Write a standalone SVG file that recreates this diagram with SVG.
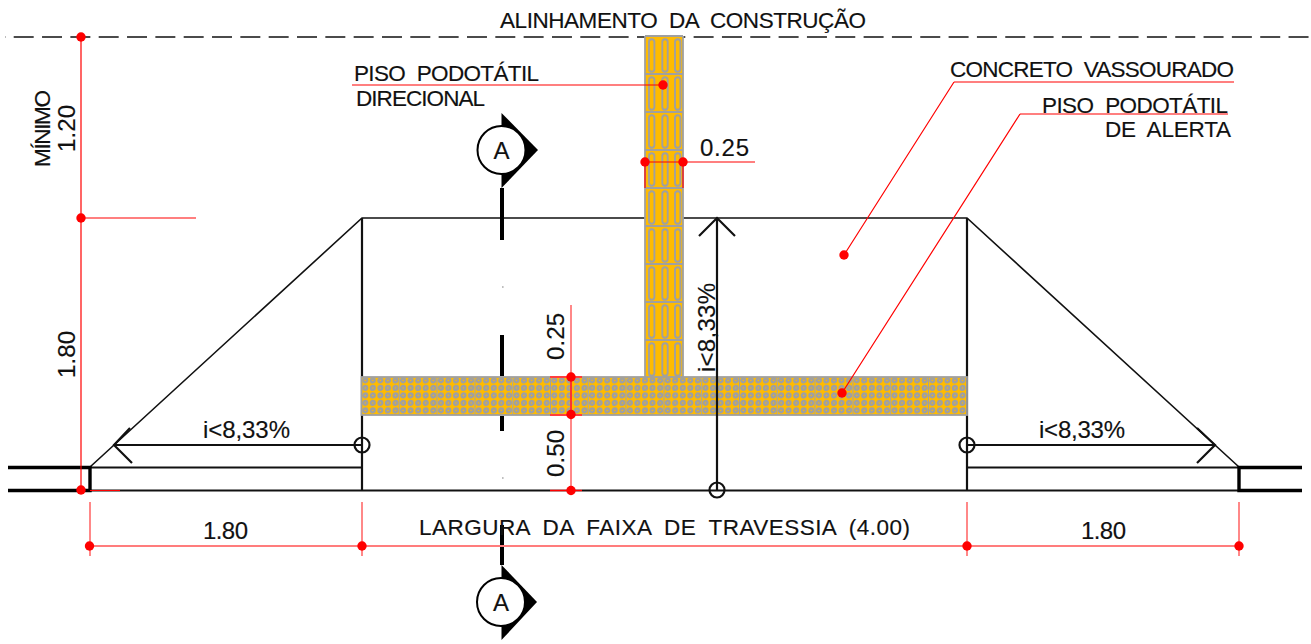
<svg xmlns="http://www.w3.org/2000/svg" width="1311" height="644" viewBox="0 0 1311 644">
<style>
text{font-family:"Liberation Sans",Arial,sans-serif;font-size:22.5px;fill:#111;word-spacing:6px;stroke:#111;stroke-width:.15}
.n{font-size:24px}
.k{stroke:#111;fill:none;stroke-width:1.6}
.m{stroke:#111;fill:none;stroke-width:2.2}
.t{stroke:#000;fill:none;stroke-width:3.4}
.s{stroke:#000;fill:none;stroke-width:4}
.r{stroke:#f00;fill:none;stroke-width:1.2}
.p{stroke:#ff7c7c;fill:none;stroke-width:1.8}
.d{fill:#f00}
.g{fill:none;stroke:#a0a0a0}
.b{fill:none;stroke:#a0a0a0;stroke-width:1.9}
.c{fill:none;stroke:#a0a0a0;stroke-width:2.400}
</style>
<defs>
<g id="dirTile">
<rect width="38" height="38" fill="#ffbb00"/>
<rect x="4" y="3.200" width="5.400" height="32.600" rx="2.700" class="b"/>
<rect x="17.300" y="3.200" width="5.400" height="32.600" rx="2.700" class="b"/>
<rect x="30" y="3.200" width="5.400" height="32.600" rx="2.700" class="b"/>
<path d="M0 0V38M38 0V38M0 0H38M0 38H38" class="g" stroke-width="1.800"/>
</g>
<g id="dotRow">
<circle cx="3.800" r="1.900" class="c"/><circle cx="11.300" r="1.900" class="c"/><circle cx="18.900" r="1.900" class="c"/><circle cx="26.400" r="1.900" class="c"/><circle cx="34" r="1.900" class="c"/>
</g>
<g id="alertTile">
<rect width="37.800" height="38" fill="#ffbb00"/>
<path d="M0 0V38" class="g" stroke-width="1"/>
<use href="#dotRow" y="3.400"/><use href="#dotRow" y="10.900"/><use href="#dotRow" y="18.400"/><use href="#dotRow" y="25.900"/><use href="#dotRow" y="33.400"/>
</g>
</defs>
<rect width="1311" height="644" fill="#fff"/>

<g id="alignment">
<path d="M5 37H1311" class="k" stroke-dasharray="20 8.33" stroke-dashoffset="-8.7"/>
</g>

<g id="ramp-outline">
<path d="M90 467L362 218H967L1239 467" class="k"/>
<path d="M362 218V490M967 218V490M90 490.500H1239M90 467.500H362M967 467.500H1239" class="m"/>
<path d="M8 467.500H90V490.500H8M1302 467.500H1239V490.500H1302" class="t"/>
</g>

<g id="section-line">
<path d="M502 188V240M502 335V376M502 416V431M502 525V565" class="s"/>
<path d="M502.500 287h.8M502.500 478h.8" stroke="#000" stroke-width="1.200" fill="none"/>
</g>

<g id="tactile-direcional">
<use href="#dirTile" x="645" y="36"/><use href="#dirTile" x="645" y="74"/><use href="#dirTile" x="645" y="112"/><use href="#dirTile" x="645" y="150"/><use href="#dirTile" x="645" y="188"/><use href="#dirTile" x="645" y="226"/><use href="#dirTile" x="645" y="264"/><use href="#dirTile" x="645" y="302"/><use href="#dirTile" x="645" y="340"/>
</g>
<g id="tactile-alerta">
<use href="#alertTile" x="361.500" y="377"/><use href="#alertTile" x="399.300" y="377"/><use href="#alertTile" x="437.100" y="377"/><use href="#alertTile" x="474.900" y="377"/><use href="#alertTile" x="512.700" y="377"/><use href="#alertTile" x="550.500" y="377"/><use href="#alertTile" x="588.300" y="377"/><use href="#alertTile" x="626.100" y="377"/><use href="#alertTile" x="663.900" y="377"/><use href="#alertTile" x="701.700" y="377"/><use href="#alertTile" x="739.500" y="377"/><use href="#alertTile" x="777.300" y="377"/><use href="#alertTile" x="815.100" y="377"/><use href="#alertTile" x="852.900" y="377"/><use href="#alertTile" x="890.700" y="377"/><use href="#alertTile" x="928.500" y="377"/>
<rect x="361.500" y="377" width="605.500" height="38" class="g" stroke-width="1.800"/>
</g>

<g id="connectors">
<path d="M115 445H362M130 428L114 445L132 463M967 445H1215M1197 428L1215 445L1197 463M717 490V218M699 236L717 218L735 236" class="m"/>
<circle cx="362" cy="445" r="7.500" class="m"/>
<circle cx="967" cy="445" r="7.500" class="m"/>
<circle cx="717" cy="490" r="7.500" class="m"/>
<path d="M81 37V490M81 218H196M90 490.500H120M352 85H663M645 162H755M645 162V188M683 162V188M954 82H1234M954 82L844 255M1020 114H1228M1020 114L842 393" class="r"/>
<path d="M571 305V490M550 377H582M550 415H582M550 490.500H582M90 546H1239M90 502V556M362 502V556M967 502V556M1239 502V556" class="p"/>
<path d="M550 377H582M550 415H582M550 490.500H582M571 377V415" class="r"/>
<g class="d">
<circle cx="81" cy="37" r="4.700"/><circle cx="81" cy="218" r="4.700"/><circle cx="81" cy="490" r="4.700"/>
<circle cx="663" cy="85" r="4.700"/><circle cx="645" cy="162" r="4.700"/><circle cx="683" cy="162" r="4.700"/>
<circle cx="844" cy="255" r="4.700"/><circle cx="842" cy="393" r="4.700"/>
<circle cx="571" cy="377" r="4.700"/><circle cx="571" cy="414.500" r="4.700"/><circle cx="571" cy="490.500" r="4.700"/>
<circle cx="89.500" cy="546" r="4.700"/><circle cx="362" cy="546" r="4.700"/><circle cx="967" cy="546" r="4.700"/><circle cx="1239" cy="546" r="4.700"/>
</g>
</g>

<g id="section-marker-top">
<path d="M501.500 113L538 150L501.500 188Z" fill="#000"/>
<circle cx="501.500" cy="150" r="24" fill="#fff" stroke="#000" stroke-width="2"/>
<text x="501.500" y="159" text-anchor="middle" class="n">A</text>
</g>
<g id="section-marker-bottom">
<path d="M501.500 565L537 602L501.500 640Z" fill="#000"/>
<circle cx="501" cy="602" r="24" fill="#fff" stroke="#000" stroke-width="2"/>
<text x="501" y="611" text-anchor="middle" class="n">A</text>
</g>

<g id="labels">
<text x="500" y="28" textLength="366">ALINHAMENTO DA CONSTRUÇÃO</text>
<text x="354" y="81" textLength="185">PISO PODOTÁTIL</text>
<text x="356" y="106" textLength="129">DIRECIONAL</text>
<text x="950" y="77" textLength="284">CONCRETO VASSOURADO</text>
<text x="1042" y="113" textLength="186">PISO PODOTÁTIL</text>
<text x="1105" y="137" textLength="126">DE ALERTA</text>
<text x="700" y="156" textLength="49" class="n">0.25</text>
<text x="203" y="438" textLength="87" class="n">i&lt;8,33%</text>
<text x="1039" y="438" textLength="86" class="n">i&lt;8,33%</text>
<text x="203" y="539" textLength="45" class="n">1.80</text>
<text x="1081" y="539" textLength="45" class="n">1.80</text>
<text x="419" y="535" textLength="491">LARGURA DA FAIXA DE TRAVESSIA (4.00)</text>
<text transform="translate(50 167) rotate(-90)" textLength="77">MÍNIMO</text>
<text transform="translate(75 152) rotate(-90)" textLength="47" class="n">1.20</text>
<text transform="translate(75 378) rotate(-90)" textLength="47" class="n">1.80</text>
<text transform="translate(564 360) rotate(-90)" textLength="47" class="n">0.25</text>
<text transform="translate(564 477) rotate(-90)" textLength="47" class="n">0.50</text>
<text transform="translate(715 372) rotate(-90)" textLength="89" class="n">i&lt;8,33%</text>
</g>
</svg>
